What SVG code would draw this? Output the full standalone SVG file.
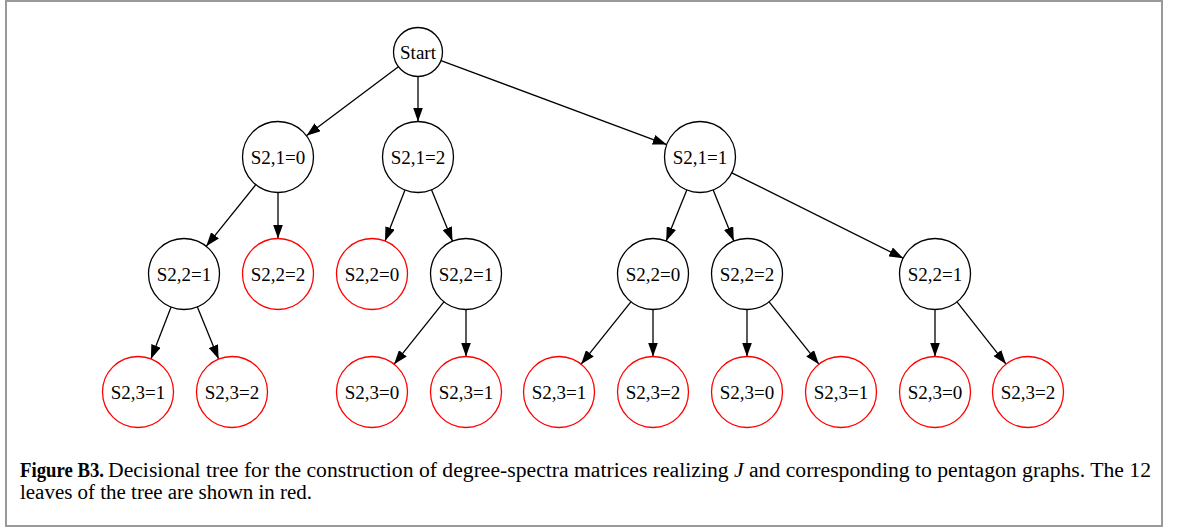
<svg xmlns="http://www.w3.org/2000/svg" width="1179" height="529" viewBox="0 0 1179 529">
<defs>
<marker id="arr" markerUnits="userSpaceOnUse" markerWidth="14" markerHeight="10" refX="14" refY="5" orient="auto">
<path d="M0,0 L14,5 L0,10 z" fill="#000"/>
</marker>
<style>
.n circle{fill:#fff;stroke:#000;stroke-width:1.3}
.leaf circle{stroke:#f00}
.n text{font-family:"Liberation Serif","Times New Roman",serif;font-size:19px;text-anchor:middle;fill:#000}
#edges line{stroke:#000;stroke-width:1.3;marker-end:url(#arr)}
.cap{font-family:"Liberation Serif","Times New Roman",serif;font-size:20px;fill:#000}
</style>
</defs>
<rect x="0" y="0" width="1179" height="529" fill="#fff"/>
<rect x="6" y="1" width="1156" height="525" fill="none" stroke="#999" stroke-width="2"/>
<g id="edges">
<line x1="398.4" y1="66.7" x2="306.4" y2="135.7"/>
<line x1="418" y1="76.5" x2="418" y2="121.5"/>
<line x1="441" y1="60.6" x2="666.7" y2="144.6"/>
<line x1="255.8" y1="184.7" x2="206.2" y2="246.3"/>
<line x1="278" y1="192.5" x2="278" y2="238.5"/>
<line x1="405" y1="190" x2="385" y2="241"/>
<line x1="431.5" y1="189.8" x2="452.5" y2="241.2"/>
<line x1="686.8" y1="189.9" x2="666.2" y2="241.1"/>
<line x1="713.2" y1="189.9" x2="733.8" y2="241.1"/>
<line x1="731.8" y1="172.8" x2="903.2" y2="258.2"/>
<line x1="171.1" y1="307.1" x2="150.9" y2="358.9"/>
<line x1="197.4" y1="306.9" x2="218.6" y2="359.1"/>
<line x1="443.9" y1="301.8" x2="394.1" y2="364.2"/>
<line x1="466" y1="309.5" x2="466" y2="356.5"/>
<line x1="630.9" y1="301.8" x2="581.1" y2="364.2"/>
<line x1="653" y1="309.5" x2="653" y2="356.5"/>
<line x1="747" y1="309.5" x2="747" y2="356.5"/>
<line x1="769.1" y1="301.8" x2="818.9" y2="364.2"/>
<line x1="935" y1="309.5" x2="935" y2="356.5"/>
<line x1="957" y1="301.9" x2="1006" y2="364.1"/>
</g>
<g id="start" class="n"><circle cx="418" cy="52" r="24.5"/><text x="418" y="58.5">Start</text></g>
<g id="s21_0" class="n"><circle cx="278" cy="157" r="35.5"/><text x="278" y="163.5">S2,1=0</text></g>
<g id="s21_2" class="n"><circle cx="418" cy="157" r="35.5"/><text x="418" y="163.5">S2,1=2</text></g>
<g id="s21_1" class="n"><circle cx="700" cy="157" r="35.5"/><text x="700" y="163.5">S2,1=1</text></g>
<g id="a_s22_1" class="n"><circle cx="184" cy="274" r="35.5"/><text x="184" y="280.5">S2,2=1</text></g>
<g id="a_s22_2" class="n leaf"><circle cx="278" cy="274" r="35.5"/><text x="278" y="280.5">S2,2=2</text></g>
<g id="b_s22_0" class="n leaf"><circle cx="372" cy="274" r="35.5"/><text x="372" y="280.5">S2,2=0</text></g>
<g id="b_s22_1" class="n"><circle cx="466" cy="274" r="35.5"/><text x="466" y="280.5">S2,2=1</text></g>
<g id="c_s22_0" class="n"><circle cx="653" cy="274" r="35.5"/><text x="653" y="280.5">S2,2=0</text></g>
<g id="c_s22_2" class="n"><circle cx="747" cy="274" r="35.5"/><text x="747" y="280.5">S2,2=2</text></g>
<g id="c_s22_1" class="n"><circle cx="935" cy="274" r="35.5"/><text x="935" y="280.5">S2,2=1</text></g>
<g id="a_s23_1" class="n leaf"><circle cx="138" cy="392" r="35.5"/><text x="138" y="398.5">S2,3=1</text></g>
<g id="a_s23_2" class="n leaf"><circle cx="232" cy="392" r="35.5"/><text x="232" y="398.5">S2,3=2</text></g>
<g id="b_s23_0" class="n leaf"><circle cx="372" cy="392" r="35.5"/><text x="372" y="398.5">S2,3=0</text></g>
<g id="b_s23_1" class="n leaf"><circle cx="466" cy="392" r="35.5"/><text x="466" y="398.5">S2,3=1</text></g>
<g id="c_s23_1" class="n leaf"><circle cx="559" cy="392" r="35.5"/><text x="559" y="398.5">S2,3=1</text></g>
<g id="c_s23_2" class="n leaf"><circle cx="653" cy="392" r="35.5"/><text x="653" y="398.5">S2,3=2</text></g>
<g id="d_s23_0" class="n leaf"><circle cx="747" cy="392" r="35.5"/><text x="747" y="398.5">S2,3=0</text></g>
<g id="d_s23_1" class="n leaf"><circle cx="841" cy="392" r="35.5"/><text x="841" y="398.5">S2,3=1</text></g>
<g id="e_s23_0" class="n leaf"><circle cx="935" cy="392" r="35.5"/><text x="935" y="398.5">S2,3=0</text></g>
<g id="e_s23_2" class="n leaf"><circle cx="1028" cy="392" r="35.5"/><text x="1028" y="398.5">S2,3=2</text></g>
<g id="caption">
<text class="cap" x="20" y="477" font-weight="bold" textLength="84" lengthAdjust="spacingAndGlyphs">Figure B3.</text>
<text class="cap" x="108" y="477" textLength="1043" lengthAdjust="spacingAndGlyphs">Decisional tree for the construction of degree-spectra matrices realizing <tspan font-style="italic">J</tspan> and corresponding to pentagon graphs. The 12</text>
<text class="cap" x="20" y="499" textLength="292" lengthAdjust="spacingAndGlyphs">leaves of the tree are shown in red.</text>
</g>
</svg>
